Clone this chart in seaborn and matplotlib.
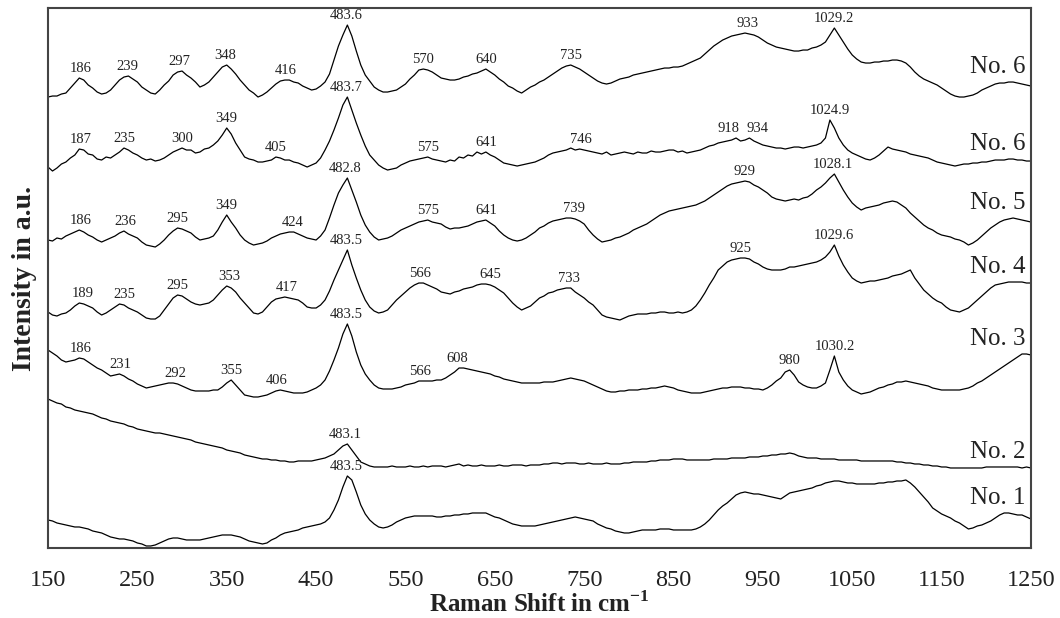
import numpy as np
import pandas as pd
import matplotlib
matplotlib.use("Agg")
import matplotlib.pyplot as plt
import seaborn as sns

# Raman shift grid (cm-1), 5 cm-1 step
shift = np.arange(150, 1251, 5)

# Intensities (a.u., spectra as stacked in the figure)
no6_top = [
    451,452,452,454,455,460,465,470,468,463,460,456,454,455,458,463,468,471,472,469,
    466,461,458,455,454,458,463,467,473,476,477,473,470,466,461,463,466,471,476,481,
    483,479,474,468,463,458,455,451,453,456,460,464,467,468,468,466,465,462,460,458,
    459,462,466,474,488,502,513,523,512,497,483,473,467,461,458,456,456,457,458,461,
    464,469,473,478,479,478,476,473,470,469,468,468,469,471,472,474,475,477,479,476,
    473,469,466,462,460,457,455,458,461,463,466,468,471,474,477,480,482,483,481,479,
    476,473,470,467,465,464,465,467,469,470,471,473,474,475,476,477,478,479,480,480,
    481,481,482,484,486,488,490,494,498,502,505,508,510,512,513,514,515,514,513,511,
    508,505,503,501,500,499,498,497,497,498,498,500,501,503,506,513,520,513,506,499,
    493,489,486,485,485,486,486,487,487,488,488,487,485,481,476,472,469,467,465,463,
    460,457,454,452,451,451,452,453,455,458,460,462,464,465,465,466,466,465,464,463,
    462]
no6_second = [
    381,377,380,384,386,390,393,399,398,394,393,389,388,391,390,393,396,400,398,395,
    393,390,388,389,387,388,390,393,396,398,400,398,398,395,396,399,400,403,407,413,
    420,414,405,398,391,389,388,386,386,387,388,391,390,388,388,386,385,383,381,383,
    385,390,398,407,418,430,443,451,438,425,413,402,393,388,383,380,378,379,380,383,
    385,387,388,389,390,391,389,388,387,386,388,387,391,390,393,392,396,394,396,393,
    391,388,385,384,383,382,383,384,385,386,388,390,393,395,396,397,398,400,398,399,
    398,397,396,395,394,396,393,394,395,396,395,394,396,395,395,397,396,396,397,398,
    398,396,397,395,396,397,398,400,402,403,405,406,407,408,410,407,408,410,407,405,
    403,402,401,400,400,399,400,401,401,400,401,402,403,405,410,428,420,410,403,398,
    395,393,391,389,388,390,393,397,401,399,398,397,396,394,393,392,391,390,388,386,
    385,384,383,382,383,384,384,385,385,386,386,387,388,388,388,389,389,388,388,387,
    387]
no5 = [
    308,307,310,309,312,314,316,318,316,313,311,308,306,308,310,312,315,317,314,312,
    310,306,303,302,301,304,308,313,317,320,319,317,315,311,308,309,310,312,318,326,
    333,326,320,313,308,305,303,304,305,307,310,312,314,315,316,316,314,312,310,309,
    308,312,318,330,343,355,363,370,358,346,333,323,316,311,308,309,310,312,315,318,
    320,322,324,326,327,328,326,325,324,321,319,320,320,321,322,324,326,327,328,325,
    322,317,313,310,308,307,308,310,313,316,320,322,325,327,328,329,330,330,329,327,
    324,318,313,309,306,307,308,310,311,313,315,318,320,322,324,327,330,333,335,337,
    338,339,340,341,342,343,345,347,350,353,356,359,362,364,365,366,367,366,363,361,
    358,355,351,349,348,347,348,349,348,350,351,354,358,361,365,370,374,366,358,351,
    345,341,338,340,341,342,343,345,346,347,346,343,340,335,331,327,323,320,318,315,
    313,312,311,309,308,306,303,305,308,312,316,320,323,326,328,329,330,329,328,327,
    326]
no4 = [
    236,233,232,234,235,238,242,245,244,242,240,236,233,235,238,241,244,243,240,238,
    236,233,230,229,229,232,238,244,250,253,252,249,246,244,243,244,245,248,253,258,
    262,260,256,250,245,240,235,234,236,241,246,249,250,251,250,249,248,245,241,240,
    240,243,248,257,268,278,288,298,283,270,258,248,241,237,235,236,238,243,248,252,
    256,260,263,265,265,263,261,259,256,255,254,256,257,259,260,261,263,264,264,263,
    261,258,255,250,245,241,238,240,242,246,250,252,255,256,258,259,260,260,256,253,
    250,246,243,238,233,231,230,229,228,230,232,233,234,234,234,235,235,236,236,235,
    235,236,235,236,238,242,248,255,263,270,278,282,286,288,289,290,290,289,286,284,
    281,279,278,278,278,279,281,281,282,283,284,285,286,288,291,296,303,292,283,276,
    270,267,265,266,267,267,268,269,270,272,273,274,276,278,270,264,258,254,250,247,
    245,241,238,237,236,238,240,244,248,252,256,260,263,264,265,266,266,266,266,265,
    265]
no3 = [
    198,195,192,188,186,187,188,190,189,186,183,180,178,175,172,173,174,172,169,167,
    164,162,160,161,162,163,164,165,165,164,162,160,158,157,157,157,157,158,158,161,
    165,168,163,158,153,152,151,151,152,153,155,157,158,157,156,155,155,155,156,158,
    160,163,168,177,188,200,214,224,212,196,183,174,168,163,160,159,159,159,160,161,
    163,164,165,167,167,167,167,168,168,170,173,176,180,180,179,178,177,176,175,174,
    172,171,169,168,167,166,165,165,165,165,165,166,166,166,167,168,169,170,169,168,
    167,165,163,161,159,157,156,156,157,157,158,158,158,159,159,160,160,161,162,161,
    160,158,157,156,155,155,155,156,157,158,159,160,160,161,161,161,160,160,159,159,
    158,160,163,167,170,176,178,173,166,163,161,160,160,162,165,178,192,176,168,162,
    158,156,154,155,156,158,160,161,163,164,166,166,167,166,165,164,163,162,160,159,
    158,158,158,158,158,159,160,162,165,167,170,173,176,179,182,185,188,191,194,194,
    193]
no2 = [
    149,147,145,144,141,140,138,137,136,135,134,132,130,129,127,126,125,124,122,121,
    119,118,117,116,115,115,114,113,112,111,110,109,108,106,105,104,103,102,101,100,
    98,97,96,95,93,92,91,90,89,89,88,88,87,87,86,86,87,87,87,87,
    88,89,90,92,94,98,102,104,98,92,86,84,82,81,81,81,81,82,81,81,
    81,82,81,81,82,81,82,82,82,81,82,83,84,82,83,82,82,83,82,82,
    82,83,82,82,83,83,83,82,83,83,83,84,84,85,85,84,85,85,85,84,
    84,85,84,84,84,85,84,84,84,85,85,86,86,86,86,87,87,88,88,88,
    89,89,89,88,88,88,88,88,88,89,89,89,89,90,90,90,90,91,91,91,
    92,92,93,93,94,94,95,94,92,91,90,90,90,89,89,89,89,88,88,88,
    88,88,87,87,87,87,87,87,87,87,86,86,85,85,84,84,83,83,82,82,
    81,81,80,80,80,80,80,80,80,80,81,81,81,81,81,81,81,81,80,81,
    80]
no1 = [
    28,27,25,24,23,22,21,21,20,19,17,16,15,13,11,10,9,9,8,7,
    5,4,2,2,3,5,7,9,10,10,9,8,8,8,8,9,10,11,12,13,
    13,13,12,11,9,7,6,5,4,5,8,10,13,15,16,17,18,20,21,22,
    23,24,26,30,38,48,61,72,68,56,43,34,28,24,21,20,21,23,26,28,
    30,31,32,32,32,32,32,31,31,32,32,33,33,34,34,35,35,35,35,33,
    31,30,28,26,24,23,22,22,22,22,23,24,25,26,27,28,29,30,31,30,
    29,28,27,24,22,20,19,17,16,15,15,16,17,18,18,18,18,19,19,19,
    18,18,18,18,18,19,21,24,28,33,38,42,45,49,53,55,56,55,54,54,
    53,52,51,50,49,52,55,56,57,58,59,60,62,63,65,66,67,67,66,65,
    65,64,64,64,64,64,65,65,66,66,67,67,68,65,61,56,51,46,40,37,
    34,32,30,27,25,22,19,20,22,23,25,27,30,33,35,35,34,33,33,31,
    29]

sample_names = ["No. 6", "No. 6", "No. 5", "No. 4", "No. 3", "No. 2", "No. 1"]
spectra = [no6_top, no6_second, no5, no4, no3, no2, no1]

# Peak annotations per spectrum
peak_labels = [
    ["186", "239", "297", "348", "416", "483.6", "570", "640", "735", "933", "1029.2"],
    ["187", "235", "300", "349", "405", "483.7", "575", "641", "746", "918", "934", "1024.9"],
    ["186", "236", "295", "349", "424", "482.8", "575", "641", "739", "929", "1028.1"],
    ["189", "235", "295", "353", "417", "483.5", "566", "645", "733", "925", "1029.6"],
    ["186", "231", "292", "355", "406", "483.5", "566", "608", "980", "1030.2"],
    ["483.1"],
    ["483.5"],
]

x_ticks = [150, 250, 350, 450, 550, 650, 750, 850, 950, 1050, 1150, 1250]

for s in spectra:
    assert len(s) == len(shift), len(s)

sns.set_theme(style="white")
plt.rcParams["font.family"] = ["Liberation Serif", "DejaVu Serif"]

fig, ax = plt.subplots(figsize=(10.6, 6.18), dpi=100)
fig.subplots_adjust(left=0.0453, right=0.9726, bottom=0.1133, top=0.987)

for name, s in zip(sample_names, spectra):
    df = pd.DataFrame({"shift": shift, "intensity": s})
    sns.lineplot(data=df, x="shift", y="intensity", ax=ax, color="black",
                 linewidth=0.9, estimator=None, sort=False)

# peak labels
nudge = {"918": -6, "934": 10}
for s, labels in zip(spectra, peak_labels):
    arr = np.asarray(s, dtype=float)
    for lab in labels:
        xp = float(lab) + nudge.get(lab, 0)
        m = (shift >= float(lab) - 8) & (shift <= float(lab) + 8)
        yp = arr[m].max()
        ax.text(xp, yp + 3, lab, ha="center", va="bottom", fontsize=10.5,
                color="#222222")

# sample names at the right
for name, s in zip(sample_names, spectra):
    arr = np.asarray(s, dtype=float)
    m = shift >= 1160
    ax.text(1244, arr[m].max() + 15, name, ha="right", va="center",
            fontsize=18, color="#222222")

ax.set_xlim(150, 1250)
ax.set_ylim(0, 540)
ax.set_xticks(x_ticks)
ax.set_xticklabels([str(t) for t in x_ticks])
ax.set_yticks([])
ax.tick_params(axis="x", length=0, pad=16, labelsize=17.5, colors="#222222")
ax.set_xlabel("Raman Shift in cm$^{\\mathregular{-1}}$", fontsize=18,
              fontweight="bold", labelpad=0, color="#222222")
ax.set_ylabel("Intensity in a.u.", fontsize=20, fontweight="bold",
              labelpad=8, color="#222222")
for sp in ax.spines.values():
    sp.set_visible(True)
    sp.set_color("#444444")
    sp.set_linewidth(1.5)

fig.savefig("out.png", dpi=100)
